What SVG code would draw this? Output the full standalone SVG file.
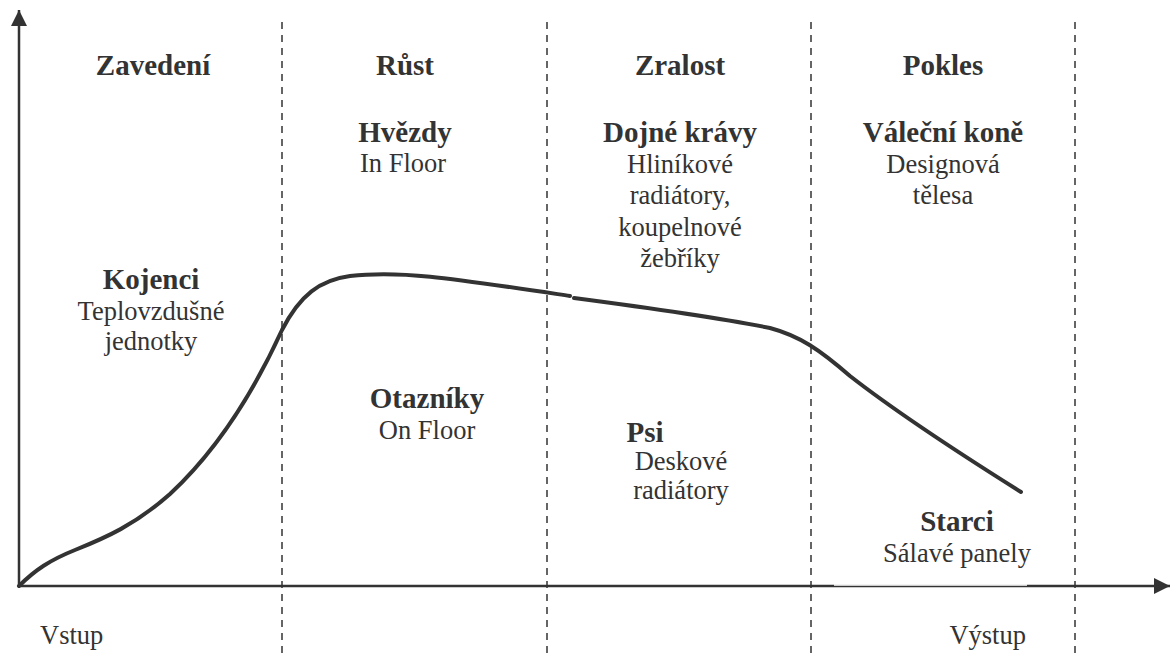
<svg xmlns="http://www.w3.org/2000/svg" width="1175" height="655" viewBox="0 0 1175 655">
<defs>
<style>
.t{font-family:"Liberation Serif","Times New Roman",serif;fill:#333;text-anchor:middle}
.b{font-weight:bold;font-size:29px}
.r{font-size:26.5px}
.ax{stroke:#333;stroke-width:2.5;fill:none}
.dash{stroke:#333;stroke-width:1.5;stroke-dasharray:7,6;fill:none}
.curve{stroke:#333;stroke-width:4;fill:none;stroke-linecap:round}
</style>
<marker id="ah" viewBox="0 0 10 10" refX="10" refY="5" markerWidth="16" markerHeight="16" markerUnits="userSpaceOnUse" orient="auto">
<path d="M0,0 L10,5 L0,10 Z" fill="#333"/>
</marker>
</defs>
<rect width="1175" height="655" fill="#fff"/>
<g id="connectors">
<line class="ax" x1="19" y1="587" x2="19" y2="10" marker-end="url(#ah)"/>
<line class="ax" x1="18" y1="586" x2="1170" y2="586" marker-end="url(#ah)"/>
<line x1="834" y1="585" x2="1027" y2="585" stroke="#fff" stroke-width="1.5"/>
<line class="dash" x1="282" y1="22" x2="282" y2="655"/>
<line class="dash" x1="547" y1="22" x2="547" y2="655"/>
<line class="dash" x1="811" y1="22" x2="811" y2="655"/>
<line class="dash" x1="1075" y1="22" x2="1075" y2="655"/>
<path class="curve" d="M19,586 C35,570 50,560 75,550 C105,538 135,525 170,494 C212,455 250,400 282,330 C300,295 320,280 350,276 C400,270 450,278 570,296"/>
<path class="curve" d="M574,298 C650,308 720,318 770,328 C800,336 820,350 850,376 C900,415 970,460 1021,492"/>
</g>
<g id="phase-zavedeni"><text class="t b" x="153" y="75">Zavedení</text></g>
<g id="phase-rust"><text class="t b" x="405" y="75">Růst</text></g>
<g id="phase-zralost"><text class="t b" x="680" y="75">Zralost</text></g>
<g id="phase-pokles"><text class="t b" x="943" y="75">Pokles</text></g>
<g id="node-hvezdy"><text class="t b" x="405" y="142">Hvězdy</text><text class="t r" x="403" y="172">In Floor</text></g>
<g id="node-dojne"><text class="t b" x="680" y="142">Dojné krávy</text><text class="t r" x="680" y="173">Hliníkové</text><text class="t r" x="680" y="204">radiátory,</text><text class="t r" x="680" y="236">koupelnové</text><text class="t r" x="680" y="267">žebříky</text></g>
<g id="node-valecne"><text class="t b" x="943" y="142">Váleční koně</text><text class="t r" x="943" y="173">Designová</text><text class="t r" x="943" y="204">tělesa</text></g>
<g id="node-kojenci"><text class="t b" x="151" y="289">Kojenci</text><text class="t r" x="151" y="320">Teplovzdušné</text><text class="t r" x="151" y="350">jednotky</text></g>
<g id="node-otazniky"><text class="t b" x="427" y="408">Otazníky</text><text class="t r" x="427" y="439">On Floor</text></g>
<g id="node-psi"><text class="t b" x="645" y="442">Psi</text><text class="t r" x="681" y="470">Deskové</text><text class="t r" x="681" y="499">radiátory</text></g>
<g id="node-starci"><text class="t b" x="957" y="531">Starci</text><text class="t r" x="957" y="562">Sálavé panely</text></g>
<g id="labels"><text class="t r" x="40" y="644" style="text-anchor:start">Vstup</text><text class="t r" x="1026" y="644" style="text-anchor:end">Výstup</text></g>
</svg>
